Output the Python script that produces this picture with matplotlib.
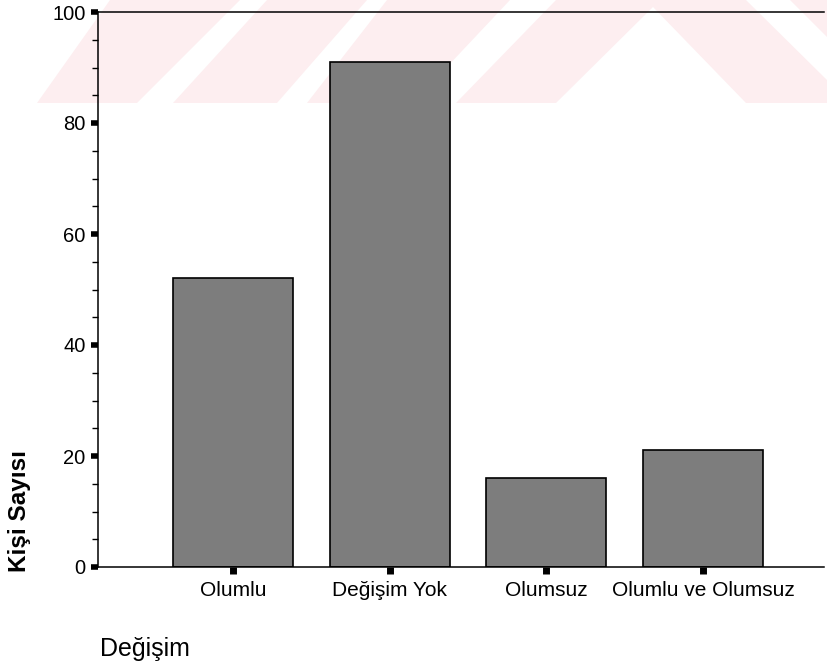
import matplotlib
matplotlib.use("Agg")
import matplotlib.pyplot as plt
from matplotlib.patches import Polygon
from matplotlib.ticker import MultipleLocator

plt.rcParams['font.family'] = ['Liberation Sans', 'DejaVu Sans']

categories = ['Olumlu', 'Değişim Yok', 'Olumsuz', 'Olumlu ve Olumsuz']
counts = [52, 91, 16, 21]

W, H = 827, 670
fig = plt.figure(figsize=(W / 100, H / 100), dpi=100)

# faint pink watermark band at the top (pixel polygons, y measured from top)
wm = [
    [(37, 103), (137, 103), (240, 0), (110, 0)],
    [(173, 103), (277, 103), (367, 0), (267, 0)],
    [(307, 103), (413, 103), (510, 0), (387, 0)],
    [(456, 103), (556, 103), (653, 7), (746, 103), (827, 103), (827, 80), (746, 0), (556, 0)],
    [(790, 0), (827, 0), (827, 37)],
]
for poly in wm:
    pts = [(x / W, 1 - y / H) for x, y in poly]
    fig.patches.append(Polygon(pts, closed=True, transform=fig.transFigure,
                               facecolor='#fdeef0', edgecolor='none', zorder=0))

ax = fig.add_axes([98 / W, (H - 567) / H, (824 - 98) / W, (567 - 12) / H])
ax.set_zorder(2)
ax.patch.set_alpha(0)

x = range(len(categories))
ax.bar(x, counts, width=0.765, color='#7d7d7d', edgecolor='black', linewidth=1.2, zorder=2)

ax.set_xlim(-0.86, 3.77)
ax.set_ylim(0, 100)
ax.set_xticks(list(x))
ax.set_xticklabels(categories, fontsize=15)
ax.set_yticks([0, 20, 40, 60, 80, 100])
ax.yaxis.set_minor_locator(MultipleLocator(5))
ax.tick_params(axis='y', which='major', length=5, width=4, labelsize=14.5, pad=4, direction='out')
ax.tick_params(axis='y', which='minor', length=4, width=1, direction='out')
ax.tick_params(axis='x', which='major', length=5, width=5, pad=5, direction='out')

ax.spines['right'].set_visible(False)
for s in ['left', 'top', 'bottom']:
    ax.spines[s].set_linewidth(1.1)

fig.text(20 / W, 1 - 511 / H, 'Kişi Sayısı', rotation=90, fontsize=17.5,
         fontweight='bold', ha='center', va='center')
fig.text(100 / W, 1 - 649 / H, 'Değişim', fontsize=18, ha='left', va='center')

fig.savefig('out.png', dpi=100)
